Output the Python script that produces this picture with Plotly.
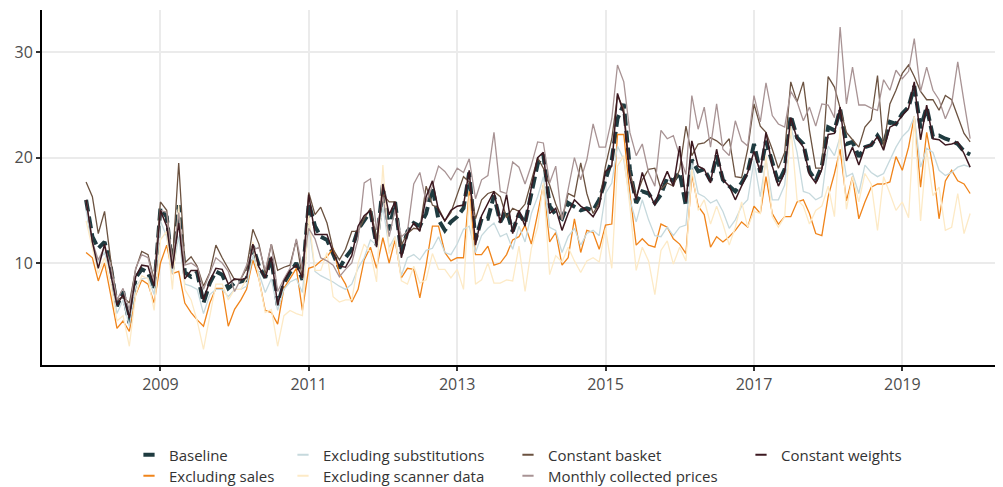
import pandas as pd
import plotly.graph_objects as go

FONT = "Open Sans, Noto Sans, sans-serif"

months = pd.date_range("2008-01-01", periods=144, freq="MS")

baseline = [
    16.0, 12.5, 11.4, 12.0, 9.7, 5.9, 7.3, 4.3, 8.6, 9.4, 9.1, 7.5,
    15.2, 14.4, 9.4, 15.5, 9.1, 8.7, 9.1, 6.2, 8.1, 9.2, 8.9, 7.6,
    8.1, 8.3, 8.4, 11.6, 9.7, 8.6, 10.5, 6.0, 8.1, 9.1, 10.0, 8.4,
    15.7, 13.5, 12.5, 12.2, 10.9, 9.5, 10.5, 11.3, 13.2, 14.1, 14.9, 11.7,
    17.4, 13.1, 15.8, 10.9, 13.0, 13.8, 13.5, 14.7, 17.2, 14.1, 13.1, 13.9,
    14.4, 15.2, 18.6, 12.2, 14.2, 14.2, 16.4, 13.9, 15.0, 13.0, 14.7, 13.8,
    16.6, 19.4, 20.3, 15.4, 14.6, 14.2, 15.7, 15.4, 15.0, 15.2, 15.0, 16.0,
    17.9, 19.8, 23.7, 25.1, 18.9, 15.7, 16.8, 16.6, 15.7, 16.5, 18.1, 17.8,
    18.6, 15.4, 19.8, 18.7, 18.9, 17.8, 20.2, 17.9, 17.3, 16.8, 17.6, 18.6,
    21.3, 18.6, 21.6, 19.5, 17.6, 18.9, 24.0, 21.9, 21.3, 18.7, 17.8, 19.2,
    22.9, 22.6, 24.6, 21.3, 21.5, 20.1, 21.0, 21.2, 22.1, 21.2, 23.4, 23.2,
    24.2, 24.8, 26.8, 22.8, 24.8, 22.0, 22.1, 21.8, 21.6, 21.3, 20.6, 20.3,
]

excluding_sales = [
    11.0, 10.5, 8.3, 10.0, 7.0, 3.8, 4.5, 3.5, 7.0, 8.4, 8.0, 6.2,
    10.0, 11.7, 9.0, 9.2, 6.2, 5.3, 4.6, 4.0, 6.2, 7.6, 7.6, 4.0,
    5.6, 6.5, 7.5, 10.3, 8.5, 5.5, 5.3, 4.2, 7.6, 8.5, 9.5, 5.5,
    9.5, 9.7, 10.2, 10.6, 11.4, 9.0, 8.0, 6.3, 7.5, 10.3, 11.5, 9.5,
    12.4, 10.0, 12.2, 8.6, 9.5, 9.4, 6.7, 9.8, 13.5, 13.5, 11.0, 10.2,
    10.5, 10.5, 16.8, 10.8, 10.8, 11.6, 9.8, 10.0, 10.8, 12.2, 12.5, 13.6,
    11.8, 14.7, 17.4, 12.0, 12.9, 9.8, 10.5, 14.2, 11.0, 13.1, 12.9, 11.3,
    13.6, 13.7, 22.2, 22.2, 16.6, 11.7, 12.3, 11.7, 11.5, 13.7, 13.4, 12.3,
    11.8, 10.9, 18.4, 15.4, 14.6, 11.5, 12.5, 12.0, 12.5, 13.1, 13.9, 13.4,
    15.4, 14.7, 18.2, 14.7, 13.7, 14.4, 14.4, 15.8, 16.0, 14.7, 12.8, 12.6,
    16.3, 18.5, 20.8, 15.9, 18.2, 14.2, 15.8, 17.2, 17.5, 17.5, 17.7, 20.1,
    18.8, 21.0, 23.9, 17.2, 22.4, 19.1, 14.2, 17.8, 18.8, 17.8, 17.5, 16.6,
]

excluding_substitutions = [
    15.0, 11.5, 10.2, 11.0, 9.0, 5.2, 6.5, 4.0, 7.8, 8.5, 8.6, 7.0,
    14.0, 12.5, 9.0, 12.5, 8.0, 7.8, 7.5, 5.2, 7.0, 7.5, 7.5, 6.8,
    7.5, 7.5, 7.8, 10.7, 9.0, 7.2, 8.5, 5.5, 7.5, 8.2, 8.5, 7.2,
    13.6, 9.2, 8.8, 8.5, 8.2, 7.8, 7.5, 8.0, 9.5, 10.5, 12.2, 11.7,
    15.3, 11.5, 12.5, 8.8, 10.5, 10.8, 10.3, 11.2, 11.4, 12.5, 11.0, 10.8,
    11.8, 13.2, 13.5, 11.0, 12.6, 13.3, 13.8, 12.5, 12.8, 11.3, 13.5, 12.0,
    14.7, 16.3, 18.2, 13.4, 13.1, 11.0, 12.5, 13.3, 11.7, 12.8, 13.1, 12.6,
    16.6, 17.6, 21.1, 19.8, 16.0, 13.9, 16.0, 14.1, 12.6, 12.5, 13.4, 12.6,
    13.4, 13.6, 19.5, 16.6, 16.3, 15.7, 16.0, 14.9, 13.3, 14.1, 15.4, 16.0,
    19.7, 16.3, 19.8, 16.0, 16.0, 17.4, 23.0, 20.5, 16.8, 16.6, 16.0, 16.3,
    21.1, 20.2, 22.0, 18.2, 18.5, 16.6, 19.3, 18.6, 18.2, 18.5, 19.7, 21.0,
    22.0, 22.6, 23.9, 19.1, 20.9, 20.5, 18.8, 18.3, 18.6, 19.1, 19.3, 19.1,
]

excluding_scanner_data = [
    14.0, 11.5, 9.0, 10.5, 8.0, 4.5, 5.0, 2.1, 7.0, 8.8, 8.5, 5.5,
    12.2, 13.0, 7.5, 15.5, 7.5, 6.5, 4.5, 1.8, 5.0, 8.0, 8.0, 6.5,
    7.5, 7.5, 8.5, 12.0, 8.5, 5.3, 5.6, 2.1, 5.0, 5.5, 5.2, 5.0,
    14.5, 9.3, 9.3, 11.0, 6.8, 6.3, 6.5, 6.5, 10.0, 11.8, 11.0, 8.2,
    19.3, 10.9, 12.5, 8.3, 8.0, 9.7, 8.1, 8.4, 10.9, 9.4, 9.4, 8.6,
    9.4, 7.5, 16.4, 8.0, 8.4, 10.0, 8.1, 8.1, 8.4, 8.3, 11.6, 7.3,
    11.4, 13.4, 17.6, 8.9, 10.7, 10.1, 11.5, 10.2, 9.1, 10.2, 10.5, 10.1,
    13.3, 9.5, 19.2, 20.2, 15.4, 9.3, 11.5, 10.2, 7.0, 11.2, 12.1, 9.9,
    11.5, 10.2, 18.9, 15.0, 16.0, 13.7, 15.4, 13.7, 11.7, 13.4, 15.8, 13.4,
    14.9, 14.7, 20.2, 14.4, 13.4, 14.4, 23.0, 16.0, 15.4, 13.7, 15.0, 15.4,
    17.3, 14.4, 22.9, 15.1, 18.2, 15.8, 18.5, 17.5, 13.1, 18.2, 16.6, 15.0,
    15.8, 14.3, 23.9, 14.0, 20.7, 16.4, 17.2, 13.1, 13.4, 16.6, 12.8, 14.7,
]

constant_basket = [
    17.7, 16.3, 12.8, 14.9, 10.3, 6.5, 6.8, 6.2, 9.4, 11.1, 10.8, 8.4,
    15.8, 15.0, 10.0, 19.5, 10.0, 10.6, 9.7, 7.8, 9.1, 11.7, 10.5, 9.4,
    8.4, 8.5, 9.5, 13.2, 11.8, 9.0, 11.8, 9.3, 9.6, 9.8, 12.2, 8.5,
    16.7, 14.6, 15.3, 13.8, 11.3, 10.3, 11.3, 13.0, 13.0, 14.2, 15.2, 12.3,
    16.5, 15.8, 15.8, 11.7, 12.8, 13.3, 13.2, 17.3, 15.5, 15.2, 14.0, 14.8,
    16.6, 18.2, 17.7, 14.2, 16.0, 16.6, 16.8, 16.3, 14.3, 15.2, 14.9, 15.6,
    17.8, 20.0, 19.0, 17.4, 15.6, 14.1, 16.6, 16.3, 19.5, 16.6, 14.7, 15.7,
    19.2, 21.8, 25.9, 24.6, 18.6, 16.3, 17.9, 18.9, 19.0, 17.0, 17.6, 17.3,
    18.9, 23.0, 20.2, 21.3, 21.4, 21.9, 21.6, 21.1, 21.8, 18.2, 18.1, 20.8,
    25.1, 23.0, 22.4, 20.8, 19.0, 20.5, 27.2, 25.3, 27.2, 22.6, 19.0, 19.0,
    27.7, 26.7, 24.7, 22.4, 21.7, 21.0, 22.9, 23.6, 27.8, 20.9, 25.1, 26.4,
    28.0, 28.8, 27.7, 26.3, 25.5, 25.5, 24.5, 25.9, 25.5, 24.0, 22.3, 21.5,
]

monthly_collected_prices = [
    16.0, 12.0, 10.3, 11.5, 9.8, 6.5, 7.6, 5.5, 9.5, 10.8, 10.5, 8.2,
    15.0, 14.8, 10.0, 14.8, 9.8, 10.0, 9.6, 7.5, 9.0, 10.5, 10.0, 9.2,
    7.3, 8.5, 9.8, 11.2, 11.5, 9.3, 11.8, 7.3, 8.5, 9.5, 12.3, 9.5,
    13.3, 12.3, 10.5, 10.2, 9.8, 8.7, 9.4, 10.0, 12.3, 17.6, 18.0, 13.2,
    16.3, 12.5, 15.1, 12.5, 13.0, 17.5, 18.6, 15.8, 17.3, 19.2, 18.7, 17.9,
    19.0, 18.6, 19.9, 16.1, 17.9, 18.3, 22.4, 16.8, 16.6, 19.6, 19.1, 17.5,
    19.3, 21.5, 21.4, 17.6, 19.2, 14.1, 17.0, 20.0, 17.9, 19.8, 23.2, 21.0,
    21.0, 23.7, 28.8, 27.2, 22.4, 20.2, 21.3, 18.6, 17.3, 22.6, 21.8, 22.1,
    20.2, 18.4, 25.9, 22.7, 24.8, 21.0, 25.1, 20.8, 20.2, 23.5, 21.6, 21.1,
    25.9, 23.4, 27.1, 24.0, 23.2, 22.9, 26.3, 25.3, 23.5, 24.8, 23.0, 25.1,
    25.0, 23.8, 32.4, 25.1, 28.6, 25.0, 25.0, 24.7, 24.5, 27.4, 26.4, 28.3,
    27.5, 28.2, 31.3, 26.3, 28.6, 26.4, 25.5, 23.7, 25.1, 29.1, 25.3, 21.8,
]

constant_weights = [
    16.0, 12.0, 9.5, 11.8, 9.0, 6.0, 7.0, 4.8, 8.7, 9.8, 9.7, 7.8,
    15.0, 13.5, 9.5, 13.8, 8.5, 9.3, 9.3, 6.5, 8.3, 9.5, 9.4, 8.0,
    8.5, 8.4, 8.6, 11.8, 9.6, 8.6, 10.6, 6.0, 8.3, 9.3, 9.8, 8.6,
    16.5, 12.7, 12.7, 12.7, 11.0, 9.7, 9.6, 10.7, 13.5, 14.5, 15.0, 11.5,
    17.5, 14.6, 15.8, 10.5, 12.8, 13.8, 13.0, 16.3, 17.8, 15.0, 14.0, 15.0,
    15.4, 15.5, 18.8, 11.7, 14.5, 15.7, 16.8, 13.8, 16.5, 12.8, 15.0, 13.5,
    17.2, 20.0, 20.5, 14.7, 15.2, 13.1, 14.7, 16.0, 15.4, 15.0, 14.4, 15.4,
    18.7, 19.2, 26.1, 24.2, 18.1, 16.0, 18.6, 16.8, 15.5, 17.3, 18.7, 17.3,
    21.1, 15.8, 21.6, 19.2, 18.9, 17.6, 20.8, 17.9, 17.3, 16.0, 17.3, 18.6,
    20.6, 18.6, 22.4, 19.2, 17.3, 18.6, 23.8, 21.8, 21.0, 18.4, 17.6, 18.9,
    22.2, 22.3, 24.8, 19.7, 21.0, 19.3, 21.0, 21.2, 22.0, 20.7, 22.9, 23.2,
    24.0, 24.7, 27.2, 21.7, 25.0, 21.8, 21.7, 21.2, 21.3, 21.5, 20.4, 19.1,
]

series_names = ["Baseline", "Excluding sales", "Excluding substitutions",
                "Excluding scanner data", "Constant basket",
                "Monthly collected prices", "Constant weights"]
series_values = [baseline, excluding_sales, excluding_substitutions,
                 excluding_scanner_data, constant_basket,
                 monthly_collected_prices, constant_weights]
colors = ["#1f3b40", "#f0841a", "#c6d9dd", "#fdeac6", "#6b5240", "#a89394", "#3c1820"]
widths = [4, 1.3, 1.3, 1.3, 1.3, 1.3, 1.5]
dashes = ["12px,5px", "solid", "solid", "solid", "solid", "solid", "solid"]

# legend text start x and row centre y (pixels in the browser page)
legend_xy = [(169, 455), (169, 476), (323, 455), (323, 476), (548, 455), (548, 476), (781, 455)]

# the page places the figure 8px from the top-left corner
OFF = 8
W, H = 995, 479
ML, MR, MT, MB = 34, 3, 2, 122
PW, PH = W - ML - MR, H - MT - MB

fig = go.Figure()
for name, vals, c, w, d in zip(series_names, series_values, colors, widths, dashes):
    fig.add_trace(go.Scatter(x=months, y=vals, mode="lines", name=name,
                             line=dict(color=c, width=w, dash=d),
                             showlegend=False, hoverinfo="x+y+name"))

layout_legends = {}
for k, (name, c, (tx, cy)) in enumerate(zip(series_names, colors, legend_xy)):
    lname = "legend" if k == 0 else f"legend{k + 1}"
    fig.add_trace(go.Scatter(x=[months[0]], y=[None], mode="markers", name=name,
                             marker=dict(symbol="line-ew", size=8, color=c,
                                         line=dict(color=c, width=4 if k == 0 else 2)),
                             legend=lname, showlegend=True, hoverinfo="skip"))
    layout_legends[lname] = dict(
        x=(tx - 48 - ML) / PW, xanchor="left",
        y=(H - MB - (cy - OFF)) / PH, yanchor="middle",
        bgcolor="rgba(0,0,0,0)", borderwidth=0,
        font=dict(family=FONT, size=15, color="#333333"),
    )

fig.update_layout(
    width=W, height=H,
    margin=dict(l=ML, r=MR, t=MT, b=MB, autoexpand=False),
    paper_bgcolor="white", plot_bgcolor="white",
    font=dict(family=FONT, color="#4d4d4d"),
    **layout_legends,
)
fig.update_xaxes(
    type="date",
    range=["2007-05-29", "2020-04-26"],
    tickvals=[f"{y}-01-01" for y in range(2009, 2020, 2)],
    ticktext=[str(y) for y in range(2009, 2020, 2)],
    showgrid=True, gridcolor="#ebebeb", gridwidth=1.8,
    showline=True, linecolor="black", linewidth=2,
    ticks="outside", ticklen=4, tickcolor="#333333", tickwidth=1.5,
    tickfont=dict(family=FONT, size=16, color="#4d4d4d"),
    zeroline=False,
)
fig.update_yaxes(
    range=[0.32, 34.02],
    tickvals=[10, 20, 30],
    showgrid=True, gridcolor="#ebebeb", gridwidth=1.8,
    showline=True, linecolor="black", linewidth=2,
    ticks="outside", ticklen=4, tickcolor="#333333", tickwidth=1.5,
    tickfont=dict(family=FONT, size=16, color="#4d4d4d"),
    zeroline=False,
)

fig.write_html("out.html")
